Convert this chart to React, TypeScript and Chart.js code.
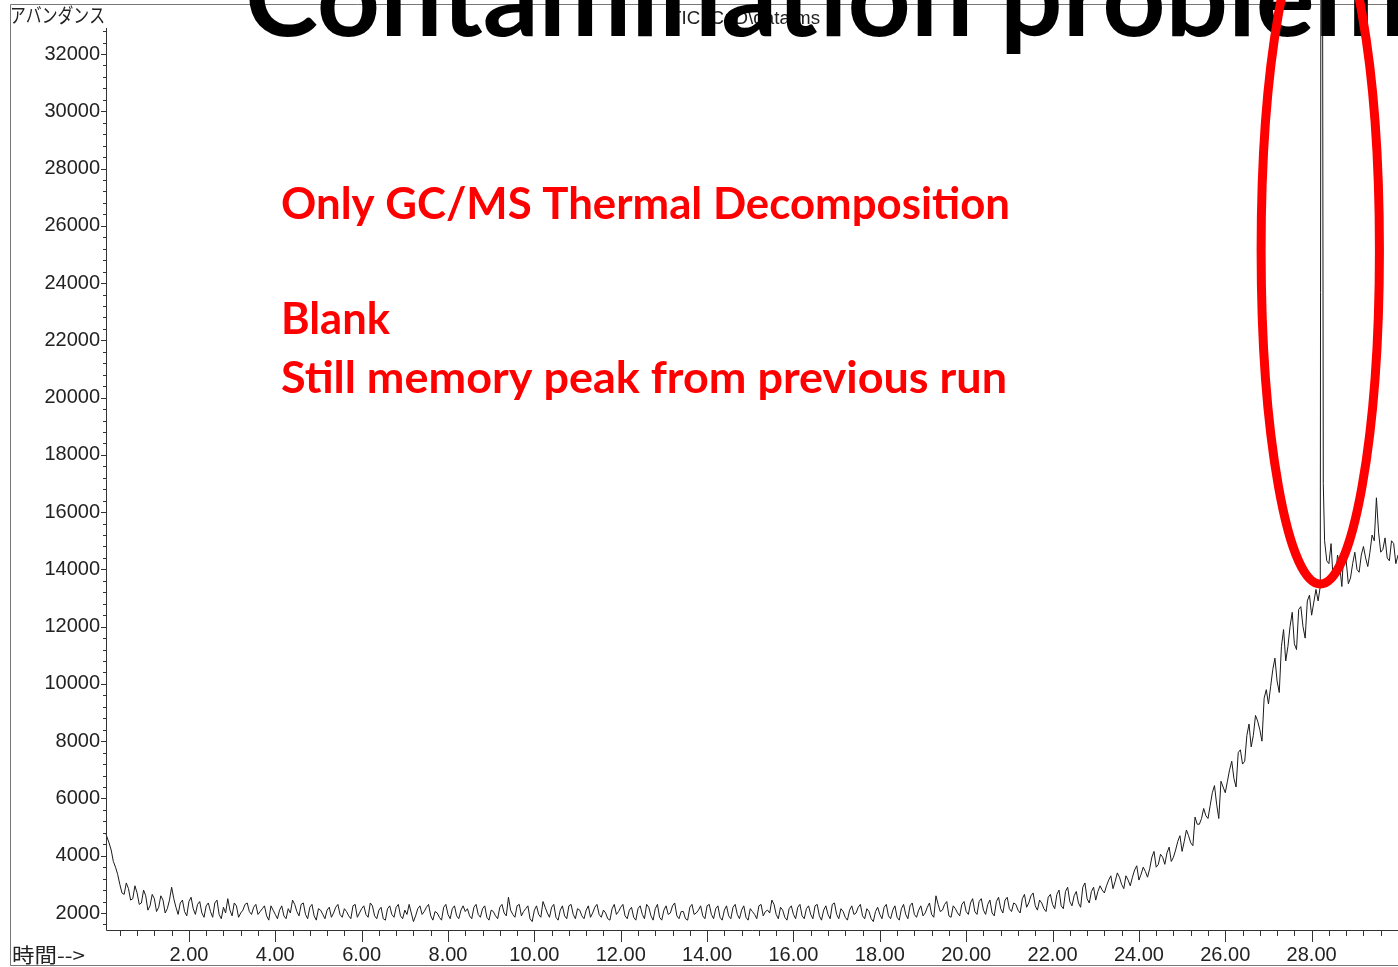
import React, { useEffect, useRef } from 'react';
import { Chart, registerables } from 'chart.js';

Chart.register(...registerables);

// Scan times (min), main scans
const scanTimes = [
  0.08, 0.2, 0.3, 0.4, 0.5, 0.6, 0.7, 0.8, 0.9, 1.0,
  1.1, 1.2, 1.3, 1.4, 1.5, 1.6, 1.7, 1.8, 1.9, 2.0,
  2.1, 2.2, 2.3, 2.4, 2.5, 2.6, 2.7, 2.8, 2.9, 3.0,
  3.1, 3.2, 3.3, 3.4, 3.5, 3.6, 3.7, 3.8, 3.9, 4.0,
  4.1, 4.2, 4.3, 4.4, 4.5, 4.6, 4.7, 4.8, 4.9, 5.0,
  5.1, 5.2, 5.3, 5.4, 5.5, 5.6, 5.7, 5.8, 5.9, 6.0,
  6.1, 6.2, 6.3, 6.4, 6.5, 6.6, 6.7, 6.8, 6.9, 7.0,
  7.1, 7.2, 7.3, 7.4, 7.5, 7.6, 7.7, 7.8, 7.9, 8.0,
  8.1, 8.2, 8.3, 8.4, 8.5, 8.6, 8.7, 8.8, 8.9, 9.0,
  9.1, 9.2, 9.3, 9.4, 9.5, 9.6, 9.7, 9.8, 9.9, 10.0,
  10.1, 10.2, 10.3, 10.4, 10.5, 10.6, 10.7, 10.8, 10.9, 11.0,
  11.1, 11.2, 11.3, 11.4, 11.5, 11.6, 11.7, 11.8, 11.9, 12.0,
  12.1, 12.2, 12.3, 12.4, 12.5, 12.6, 12.7, 12.8, 12.9, 13.0,
  13.1, 13.2, 13.3, 13.4, 13.5, 13.6, 13.7, 13.8, 13.9, 14.0,
  14.1, 14.2, 14.3, 14.4, 14.5, 14.6, 14.7, 14.8, 14.9, 15.0,
  15.1, 15.2, 15.3, 15.4, 15.5, 15.6, 15.7, 15.8, 15.9, 16.0,
  16.1, 16.2, 16.3, 16.4, 16.5, 16.6, 16.7, 16.8, 16.9, 17.0,
  17.1, 17.2, 17.3, 17.4, 17.5, 17.6, 17.7, 17.8, 17.9, 18.0,
  18.1, 18.2, 18.3, 18.4, 18.5, 18.6, 18.7, 18.8, 18.9, 19.0,
  19.1, 19.2, 19.3, 19.4, 19.5, 19.6, 19.7, 19.8, 19.9, 20.0,
  20.1, 20.2, 20.3, 20.4, 20.5, 20.6, 20.7, 20.8, 20.9, 21.0,
  21.1, 21.2, 21.3, 21.4, 21.5, 21.6, 21.7, 21.8, 21.9, 22.0,
  22.1, 22.2, 22.3, 22.4, 22.5, 22.6, 22.7, 22.8, 22.9, 23.0,
  23.1, 23.2, 23.3, 23.4, 23.5, 23.6, 23.7, 23.8, 23.9, 24.0,
  24.1, 24.2, 24.3, 24.4, 24.5, 24.6, 24.7, 24.8, 24.9, 25.0,
  25.1, 25.2, 25.3, 25.4, 25.5, 25.6, 25.7, 25.8, 25.9, 26.0,
  26.1, 26.2, 26.3, 26.4, 26.5, 26.6, 26.7, 26.8, 26.9, 27.0,
  27.1, 27.2, 27.3, 27.4, 27.5, 27.6, 27.7, 27.8, 27.9, 28.0,
  28.1, 28.15, 28.2, 28.23, 28.27, 28.3, 28.4, 28.5, 28.6, 28.7,
  28.8, 28.9, 29.0, 29.1, 29.2, 29.3, 29.4, 29.5, 29.6, 29.7,
  29.8, 29.9, 30.0,
];

// TIC abundance at each main scan
const abundance = [
  4750, 4200, 3600, 3000, 2650, 2850, 2500, 2700, 2350, 2600,
  2250, 2500, 2200, 2450, 2150, 2900, 2200, 2350, 2050, 2400,
  2150, 2300, 2000, 2250, 2050, 2350, 1950, 2200, 2500, 1900,
  2250, 2000, 2300, 2050, 2200, 1950, 2150, 1900, 2250, 1950,
  2100, 1900, 2150, 2450, 2050, 2300, 1950, 2200, 1900, 2150,
  1950, 2100, 1850, 2200, 1950, 2150, 1900, 2250, 1850, 2150,
  1950, 2350, 1900, 2100, 1800, 2150, 1950, 2200, 1900, 2100,
  2300, 1700, 2150, 1950, 2200, 1900, 2050, 1850, 2200, 1950,
  2150, 1900, 2100, 2050, 1900, 2200, 1950, 2150, 1850, 2100,
  1900, 2200, 2000, 2550, 1950, 2250, 1900, 2150, 1800, 2100,
  1950, 2400, 2000, 2200, 1850, 2100, 1900, 2250, 1950, 2150,
  1900, 2100, 1850, 2200, 1950, 2100, 1800, 2150, 1950, 2200,
  1900, 2100, 1850, 2150, 1950, 2300, 1900, 2150, 1850, 2100,
  1950, 2250, 1900, 2050, 1800, 2200, 1950, 2100, 1900, 2250,
  1950, 2150, 1850, 2100, 1900, 2200, 1950, 2100, 1850, 2150,
  1950, 2250, 1900, 2100, 2450, 1950, 2200, 1850, 2150, 1950,
  2200, 1900, 2150, 1950, 2250, 1900, 2100, 1950, 2300, 1950,
  2150, 1850, 2100, 1950, 2200, 1900, 2150, 1800, 2050, 1950,
  2200, 1900, 2100, 1850, 2150, 1950, 2250, 1950, 2100, 1900,
  2200, 1950, 2600, 2050, 2300, 1900, 2250, 2000, 2300, 2050,
  2350, 2050, 2400, 2100, 2300, 2000, 2400, 2150, 2450, 2150,
  2350, 2100, 2500, 2200, 2600, 2250, 2450, 2150, 2550, 2300,
  2650, 2250, 2750, 2400, 2600, 2350, 2900, 2500, 2750, 2450,
  2950, 2700, 3150, 2850, 3400, 3000, 3300, 2950, 3500, 3150,
  3600, 3250, 3950, 3600, 4050, 3700, 4300, 3950, 4500, 4150,
  4900, 4450, 5350, 5100, 5650, 5300, 6200, 5800, 6600, 6200,
  7000, 6700, 7600, 7200, 8200, 7800, 8900, 8400, 9500, 9300,
  10500, 10100, 11300, 10800, 12000, 11400, 12600, 12000, 12900, 12400,
  13300, 12900, 13400, 60000, 17000, 15000, 14200, 13600, 14500, 13400,
  14300, 13700, 14600, 13900, 14800, 14100, 15200, 16500, 14600, 15100,
  14300, 14900, 14500,
];

// Intermediate scans (min)
const midScanTimes = [
  0.15, 0.25, 0.35, 0.45, 0.55, 0.65, 0.75, 0.85, 0.95,
  1.05, 1.15, 1.25, 1.35, 1.45, 1.55, 1.65, 1.75, 1.85, 1.95,
  2.05, 2.15, 2.25, 2.35, 2.45, 2.55, 2.65, 2.75, 2.85, 2.95,
  3.05, 3.15, 3.25, 3.35, 3.45, 3.55, 3.65, 3.75, 3.85, 3.95,
  4.05, 4.15, 4.25, 4.35, 4.45, 4.55, 4.65, 4.75, 4.85, 4.95,
  5.05, 5.15, 5.25, 5.35, 5.45, 5.55, 5.65, 5.75, 5.85, 5.95,
  6.05, 6.15, 6.25, 6.35, 6.45, 6.55, 6.65, 6.75, 6.85, 6.95,
  7.05, 7.15, 7.25, 7.35, 7.45, 7.55, 7.65, 7.75, 7.85, 7.95,
  8.05, 8.15, 8.25, 8.35, 8.45, 8.55, 8.65, 8.75, 8.85, 8.95,
  9.05, 9.15, 9.25, 9.35, 9.45, 9.55, 9.65, 9.75, 9.85, 9.95,
  10.05, 10.15, 10.25, 10.35, 10.45, 10.55, 10.65, 10.75, 10.85, 10.95,
  11.05, 11.15, 11.25, 11.35, 11.45, 11.55, 11.65, 11.75, 11.85, 11.95,
  12.05, 12.15, 12.25, 12.35, 12.45, 12.55, 12.65, 12.75, 12.85, 12.95,
  13.05, 13.15, 13.25, 13.35, 13.45, 13.55, 13.65, 13.75, 13.85, 13.95,
  14.05, 14.15, 14.25, 14.35, 14.45, 14.55, 14.65, 14.75, 14.85, 14.95,
  15.05, 15.15, 15.25, 15.35, 15.45, 15.55, 15.65, 15.75, 15.85, 15.95,
  16.05, 16.15, 16.25, 16.35, 16.45, 16.55, 16.65, 16.75, 16.85, 16.95,
  17.05, 17.15, 17.25, 17.35, 17.45, 17.55, 17.65, 17.75, 17.85, 17.95,
  18.05, 18.15, 18.25, 18.35, 18.45, 18.55, 18.65, 18.75, 18.85, 18.95,
  19.05, 19.15, 19.25, 19.35, 19.45, 19.55, 19.65, 19.75, 19.85, 19.95,
  20.05, 20.15, 20.25, 20.35, 20.45, 20.55, 20.65, 20.75, 20.85, 20.95,
  21.05, 21.15, 21.25, 21.35, 21.45, 21.55, 21.65, 21.75, 21.85, 21.95,
  22.05, 22.15, 22.25, 22.35, 22.45, 22.55, 22.65, 22.75, 22.85, 22.95,
  23.05, 23.15, 23.25, 23.35, 23.45, 23.55, 23.65, 23.75, 23.85, 23.95,
  24.05, 24.15, 24.25, 24.35, 24.45, 24.55, 24.65, 24.75, 24.85, 24.95,
  25.05, 25.15, 25.25, 25.35, 25.45, 25.55, 25.65, 25.75, 25.85, 25.95,
  26.05, 26.15, 26.25, 26.35, 26.45, 26.55, 26.65, 26.75, 26.85, 26.95,
  27.05, 27.15, 27.25, 27.35, 27.45, 27.55, 27.65, 27.75, 27.85, 27.95,
  28.35, 28.45, 28.55, 28.65, 28.75, 28.85, 28.95, 29.05, 29.15, 29.25,
  29.35, 29.45, 29.55, 29.65, 29.75, 29.85, 29.95,
];

// TIC abundance at each intermediate scan
const midAbundance = [
  4450, 3800, 3350, 2700, 3050, 2450, 2950, 2300, 2800,
  2100, 2650, 2050, 2600, 2000, 2450, 2500, 1950, 2450, 1900,
  2550, 1950, 2400, 1850, 2350, 1850, 2450, 1800, 2000, 2100,
  2350, 1850, 2100, 2350, 1950, 2300, 2050, 2250, 1750, 2100,
  1800, 2250, 1800, 2000, 2300, 1900, 2350, 1800, 2300, 1750,
  2100, 1800, 2200, 2000, 2300, 1850, 2050, 1800, 2300, 2000,
  2250, 1850, 2250, 1800, 2200, 1750, 2250, 1850, 2300, 1800,
  1950, 2000, 1900, 2250, 2050, 2300, 1750, 2000, 1750, 2300,
  1800, 2250, 1800, 2250, 2150, 1800, 2300, 1850, 2250, 1750,
  2050, 1800, 2300, 1900, 2100, 1850, 2300, 2050, 2250, 1700,
  2250, 1850, 2200, 1850, 2300, 1750, 2250, 1800, 2300, 1800,
  2100, 1800, 2250, 2000, 2300, 1850, 2000, 1750, 2300, 2050,
  2300, 1800, 2200, 1750, 2250, 1800, 2200, 1750, 2300, 1750,
  2250, 2000, 2350, 1800, 2050, 1750, 2300, 2000, 2250, 1800,
  2300, 1800, 2250, 1750, 2250, 1800, 2300, 1800, 2250, 1750,
  2050, 1800, 2300, 2050, 2000, 2300, 1800, 2100, 1750, 2250,
  1800, 2300, 1800, 2250, 1800, 2300, 1750, 2250, 1800, 2350,
  1800, 2050, 1750, 2250, 2000, 2300, 1800, 2050, 1700, 2200,
  1800, 2300, 1800, 2250, 1750, 2300, 1800, 2350, 1850, 2250,
  2000, 2350, 1850, 2300, 2100, 2400, 1850, 2150, 1900, 2400,
  1950, 2500, 1950, 2500, 1950, 2450, 1900, 2550, 2000, 2550,
  2050, 2300, 2000, 2650, 2350, 2700, 2100, 2350, 2050, 2650,
  2150, 2800, 2150, 2900, 2250, 2750, 2200, 3050, 2350, 2900,
  2750, 2800, 2950, 3300, 3100, 3250, 2850, 3150, 3250, 3650,
  3350, 3450, 3550, 4150, 3700, 3950, 4100, 3800, 4200, 4700,
  4500, 4700, 4350, 5100, 5300, 5400, 5750, 6450, 5300, 6400,
  6600, 7300, 6400, 7700, 7300, 8600, 8200, 8700, 8000, 9800,
  9900, 10900, 9700, 11900, 11300, 12500, 11200, 12700, 11600, 13100,
  14300, 14900, 13700, 14100, 14800, 13500, 14200, 14000, 14500, 14400,
  14600, 15000, 15300, 14700, 14400, 15000, 14200,
];

const xTickLabels = [2, 4, 6, 8, 10, 12, 14, 16, 18, 20, 22, 24, 26, 28];
const yTickLabels = [2000, 4000, 6000, 8000, 10000, 12000, 14000, 16000, 18000, 20000, 22000, 24000, 26000, 28000, 30000, 32000];
const xMinorStep = 0.4;
const yMinorStep = 400;
const xRange = [0.08, 30];
const yRange = [1406, 32908];

const titleText = 'Contamination problem';
const titleLead = 'Contamination ';
const noteLines = ['Only GC/MS Thermal Decomposition', 'Blank', 'Still memory peak from previous run'];
const yAxisName = 'アバンダンス';
const xAxisName = '時間-->';
const fileLabel = 'TIC: C:\\D\\data.ms';
// highlighted memory peak (centre and radii in data units)
const memoryPeak = { time: 28.2, abundance: 25150, rTime: 1.37, rAbundance: 11660 };

function fitText(ctx: CanvasRenderingContext2D, text: string, x: number, baseline: number, width: number, font: string, color: string) {
  ctx.save();
  ctx.font = font;
  ctx.fillStyle = color;
  ctx.textBaseline = 'alphabetic';
  ctx.textAlign = 'left';
  const w = ctx.measureText(text).width;
  ctx.translate(x, baseline);
  ctx.scale(width / w, 1);
  ctx.fillText(text, 0, 0);
  ctx.restore();
}

const decorPlugin = {
  id: 'chromDecor',
  afterDraw(chart: any) {
    const { ctx, chartArea: ca, scales } = chart;
    const xs = scales.x;
    const ys = scales.y;
    const W = chart.width;
    ctx.save();
    // outer frame
    ctx.strokeStyle = '#777';
    ctx.lineWidth = 1;
    ctx.beginPath();
    ctx.moveTo(W, 4.5);
    ctx.lineTo(10.5, 4.5);
    ctx.lineTo(10.5, 965.5);
    ctx.lineTo(W, 965.5);
    ctx.stroke();

    // axis lines
    ctx.strokeStyle = '#333';
    ctx.beginPath();
    ctx.moveTo(ca.left + 0.5, ca.top);
    ctx.lineTo(ca.left + 0.5, ca.bottom + 0.5);
    ctx.lineTo(ca.right, ca.bottom + 0.5);
    ctx.stroke();

    // x ticks
    ctx.beginPath();
    for (let k = 1; k * xMinorStep < xRange[1]; k++) {
      const v = k * xMinorStep;
      const major = Math.abs(v / 2 - Math.round(v / 2)) < 1e-6;
      const px = Math.round(xs.getPixelForValue(v)) + 0.5;
      ctx.moveTo(px, ca.bottom);
      ctx.lineTo(px, ca.bottom + (major ? 12 : 6));
    }
    // y ticks
    for (let k = Math.ceil(yRange[0] / yMinorStep); k * yMinorStep <= yRange[1]; k++) {
      const v = k * yMinorStep;
      const major = v % 2000 === 0;
      const py = Math.round(ys.getPixelForValue(v)) + 0.5;
      ctx.moveTo(ca.left, py);
      ctx.lineTo(ca.left - (major ? 5 : 3), py);
    }
    ctx.stroke();

    // header texts
    fitText(ctx, yAxisName, 10, 23, 95, '20px "Noto Sans CJK JP"', '#222');
    fitText(ctx, xAxisName, 12, 963, 73, '20px "Noto Sans CJK JP"', '#222');
    fitText(ctx, fileLabel, 670, 24, 150, '18px "Liberation Sans"', '#222');

    // big title (cut at top)
    ctx.save();
    ctx.font = 'bold 110px Lato';
    const s = 755 / ctx.measureText(titleLead).width;
    ctx.fillStyle = '#000';
    ctx.translate(245, 36);
    ctx.scale(s, 1);
    ctx.fillText(titleText, 0, 0);
    ctx.restore();

    // red notes
    const redFont = 'bold 44px Lato';
    fitText(ctx, noteLines[0], 281, 219, 729, redFont, '#ff0000');
    fitText(ctx, noteLines[1], 281, 334, 109, redFont, '#ff0000');
    fitText(ctx, noteLines[2], 281, 393, 726, redFont, '#ff0000');

    // ellipse around memory peak
    const cx = xs.getPixelForValue(memoryPeak.time);
    const cy = ys.getPixelForValue(memoryPeak.abundance);
    const rx = Math.abs(xs.getPixelForValue(memoryPeak.time + memoryPeak.rTime) - cx);
    const ry = Math.abs(ys.getPixelForValue(memoryPeak.abundance + memoryPeak.rAbundance) - cy);
    ctx.strokeStyle = '#ff0000';
    ctx.lineWidth = 9;
    ctx.beginPath();
    ctx.ellipse(cx, cy, rx, ry, 0, 0, Math.PI * 2);
    ctx.stroke();
    ctx.restore();
  },
};

export default function App() {
  const ref = useRef<HTMLCanvasElement | null>(null);
  useEffect(() => {
    const canvas = ref.current;
    if (!canvas) return;
    const points = scanTimes
      .map((t, i) => ({ x: t, y: abundance[i] }))
      .concat(midScanTimes.map((t, i) => ({ x: t, y: midAbundance[i] })))
      .sort((a, b) => a.x - b.x);
    const chart = new Chart(canvas, {
      type: 'line',
      data: {
        datasets: [
          {
            data: points,
            borderColor: '#1a1a1a',
            borderWidth: 1,
            pointRadius: 0,
            tension: 0,
            clip: false,
          } as any,
        ],
      },
      options: {
        animation: false,
        responsive: false,
        devicePixelRatio: 1,
        parsing: false,
        normalized: true,
        layout: { padding: { top: 28, right: 0, left: 0, bottom: 0 } },
        plugins: { legend: { display: false }, tooltip: { enabled: false }, title: { display: false } },
        scales: {
          x: {
            type: 'linear',
            min: xRange[0],
            max: xRange[1],
            grid: { display: false, drawTicks: false },
            border: { display: false },
            afterBuildTicks: (s: any) => {
              s.ticks = xTickLabels.map((v) => ({ value: v }));
            },
            afterFit: (s: any) => {
              s.height = 37;
            },
            ticks: {
              autoSkip: false,
              maxRotation: 0,
              padding: 13,
              color: '#222',
              font: { family: '"Liberation Sans"', size: 20 },
              callback: (v: any) => Number(v).toFixed(2),
            },
          },
          y: {
            type: 'linear',
            min: yRange[0],
            max: yRange[1],
            grid: { display: false, drawTicks: false },
            border: { display: false },
            afterBuildTicks: (s: any) => {
              s.ticks = yTickLabels.map((v) => ({ value: v }));
            },
            afterFit: (s: any) => {
              s.width = 106;
            },
            ticks: {
              autoSkip: false,
              padding: 6,
              color: '#222',
              font: { family: '"Liberation Sans"', size: 20 },
              callback: (v: any) => String(v),
            },
          },
        },
      },
      plugins: [decorPlugin],
    });
    return () => chart.destroy();
  }, []);
  return (
    <div style={{ position: 'fixed', left: 0, top: 0, width: 1398, height: 967, background: '#fff' }}>
      <canvas ref={ref} width={1398} height={967} style={{ display: 'block' }} />
    </div>
  );
}
